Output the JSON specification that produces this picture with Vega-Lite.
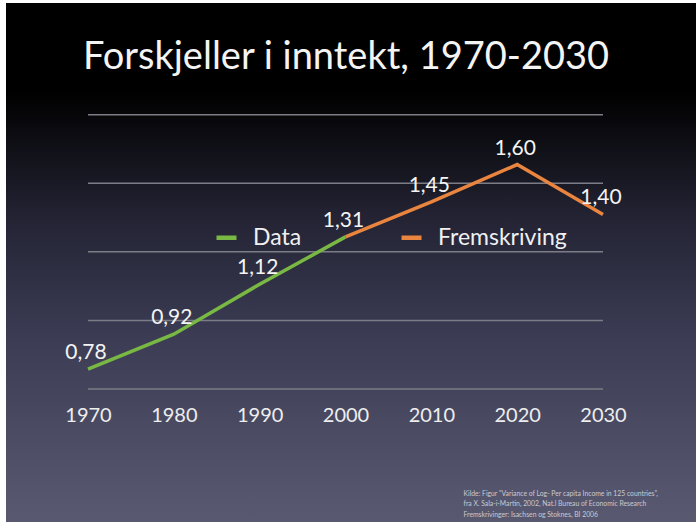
{
  "$schema": "https://vega.github.io/schema/vega-lite/v6.json",
  "width": 690,
  "height": 519,
  "autosize": {"type": "none"},
  "padding": {"left": 6, "top": 3, "right": 0, "bottom": 0},
  "background": "#ffffff",
  "title": {
    "text": "Forskjeller i inntekt, 1970-2030",
    "font": "Lato",
    "fontSize": 38,
    "fontWeight": "normal",
    "color": "#f4f4f4",
    "anchor": "middle",
    "frame": "group",
    "baseline": "alphabetic",
    "offset": 0,
    "dy": 104,
    "dx": -5
  },
  "config": {
    "view": {"stroke": null},
    "locale": {"number": {"decimal": ",", "thousands": " ", "grouping": [3], "currency": ["", " kr"]}}
  },
  "layer": [
    {
      "data": {"values": [{}]},
      "mark": {
        "type": "rect",
        "color": {
          "gradient": "linear",
          "x1": 0, "y1": 0, "x2": 0, "y2": 1,
          "stops": [
            {"offset": 0, "color": "#000000"},
            {"offset": 0.17, "color": "#000000"},
            {"offset": 0.42, "color": "#242435"},
            {"offset": 0.65, "color": "#3c3d55"},
            {"offset": 0.96, "color": "#56576f"},
            {"offset": 1, "color": "#58596f"}
          ]
        }
      },
      "encoding": {}
    },
    {
      "data": {"values": [{"g": 0.7}, {"g": 0.975}, {"g": 1.25}, {"g": 1.525}, {"g": 1.8}]},
      "mark": {"type": "rule", "color": "#7c7c86", "strokeWidth": 1.5},
      "encoding": {
        "x": {"datum": 1970, "type": "quantitative"},
        "x2": {"datum": 2030},
        "y": {"field": "g", "type": "quantitative"}
      }
    },
    {
      "data": {"name": "series", "values": [
        {"year": 1970, "value": 0.78, "series": "Data"},
        {"year": 1980, "value": 0.92, "series": "Data"},
        {"year": 1990, "value": 1.12, "series": "Data"},
        {"year": 2000, "value": 1.31, "series": "Data"},
        {"year": 2000, "value": 1.31, "series": "Fremskriving"},
        {"year": 2010, "value": 1.45, "series": "Fremskriving"},
        {"year": 2020, "value": 1.60, "series": "Fremskriving"},
        {"year": 2030, "value": 1.40, "series": "Fremskriving"}
      ]},
      "layer": [
        {
          "mark": {"type": "line", "strokeWidth": 3.5, "strokeJoin": "miter"},
          "encoding": {
            "x": {
              "field": "year", "type": "quantitative",
              "scale": {"domain": [1970, 2030], "range": [82, 597], "nice": false, "zero": false},
              "axis": {
                "orient": "bottom",
                "offset": -133,
                "values": [1970, 1980, 1990, 2000, 2010, 2020, 2030],
                "format": "d",
                "domain": false, "ticks": false, "grid": false,
                "labelFont": "Lato", "labelFontSize": 20, "labelColor": "#eeeeee",
                "labelBaseline": "alphabetic", "labelPadding": 32,
                "labelFlush": false, "labelOverlap": false,
                "zindex": 1,
                "title": [
                  "Kilde: Figur \"Variance of Log- Per capita Income in 125 countries\",",
                  "fra X. Sala-i-Martin, 2002, Nat.l Bureau of Economic Research",
                  "Fremskrivinger: Isachsen og Stoknes, BI 2006"
                ],
                "titleFont": "Lato", "titleFontSize": 6.8, "titleFontWeight": "normal",
                "titleColor": "#c9c9d2",
                "titleX": 457, "titleY": 106,
                "titleAlign": "left", "titleBaseline": "alphabetic",
                "titleLineHeight": 10.5
              }
            },
            "y": {
              "field": "value", "type": "quantitative",
              "scale": {"domain": [0.7, 1.8], "range": [386, 111.7], "nice": false, "zero": false},
              "axis": null
            },
            "color": {
              "field": "series", "type": "nominal",
              "scale": {"domain": ["Data", "Fremskriving"], "range": ["#78b843", "#e9853f"]},
              "legend": {
                "title": null,
                "orient": "none",
                "legendX": 208,
                "legendY": 222,
                "direction": "horizontal",
                "symbolType": "stroke",
                "symbolSize": 400,
                "symbolStrokeWidth": 4.5,
                "labelFont": "Lato",
                "labelFontSize": 23,
                "labelColor": "#f0f0f0",
                "labelOffset": 14,
                "columnPadding": 90,
                "padding": 0
              }
            }
          }
        },
        {
          "transform": [{"filter": "datum.series == 'Data' || datum.year > 2000"}],
          "mark": {"type": "text", "font": "Lato", "fontSize": 21, "color": "#f4f4f4", "baseline": "alphabetic", "align": "center", "dy": -10, "dx": -2},
          "encoding": {
            "x": {"field": "year", "type": "quantitative"},
            "y": {"field": "value", "type": "quantitative"},
            "text": {"field": "value", "type": "quantitative", "format": ".2f"}
          }
        }
      ]
    }
  ]
}
